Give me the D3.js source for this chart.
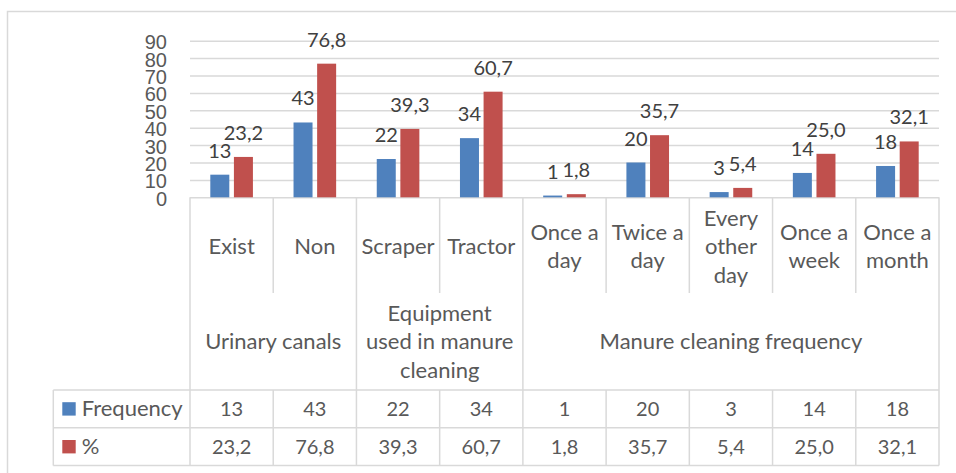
<!DOCTYPE html>
<html>
<head>
<meta charset="utf-8">
<script src="https://cdn.jsdelivr.net/npm/d3@7"></script>
<style>
  body { margin: 0; background: #fff; }
  svg { font-family: Lato, "Open Sans", sans-serif; }
  .grid line { stroke: #d9d9d9; stroke-width: 1.5; }
  .grid text { fill: #595959; font-size: 20px; }
  .rule { stroke: #d9d9d9; stroke-width: 1.5; fill: none; }
  .lbl { fill: #595959; font-size: 22px; text-anchor: middle; }
  .num { fill: #595959; font-size: 20px; text-anchor: middle; }
  .val { fill: #404040; font-size: 20px; text-anchor: middle; }
</style>
</head>
<body>
<svg width="956" height="473"></svg>
<script>
// chart data
var categories = ["Exist", "Non", "Scraper", "Tractor", "Once a day", "Twice a day", "Every other day", "Once a week", "Once a month"];
var categoryLines = [["Exist"], ["Non"], ["Scraper"], ["Tractor"], ["Once a", "day"], ["Twice a", "day"], ["Every", "other", "day"], ["Once a", "week"], ["Once a", "month"]];
var groupNames = [["Urinary canals"], ["Equipment", "used in manure", "cleaning"], ["Manure cleaning frequency"]];
var groupSpans = [2, 2, 5];
var seriesNames = ["Frequency", "%"];
var frequency = [13, 43, 22, 34, 1, 20, 3, 14, 18];
var percent = [23.2, 76.8, 39.3, 60.7, 1.8, 35.7, 5.4, 25.0, 32.1];
var yTicks = [0, 10, 20, 30, 40, 50, 60, 70, 80, 90];
var colors = ["#4f81bd", "#c0504d"];

var svg = d3.select('svg');
var plotLeft = 190, plotRight = 939, base = 197.3, plotTop = 40.7;
var catRowBottom = 293, tableTop = 390, rowH = 37.8;
var tableLeft = 53.3;
var lineGap = 28.5;
var textShift = 7.5; // baseline offset from visual center

var fmtPct = function (v) { return d3.format(".1f")(v).replace(".", ","); };
var series = [frequency, percent];
var formats = [d3.format("d"), fmtPct];

var x = d3.scaleBand().domain(categories).range([plotLeft, plotRight]);
var x1 = d3.scaleBand().domain(seriesNames).range([0, x.bandwidth()])
    .paddingInner(0.195).paddingOuter(0.86);
var y = d3.scaleLinear().domain([0, 90]).range([base, plotTop]);

// outer chart border (only top and left are visible)
svg.append("rect").attr("class", "rule")
    .attr("x", 7.5).attr("y", 11.5).attr("width", 1000).attr("height", 500);

// gridlines + y labels
var yAxis = d3.axisLeft(y).tickValues(yTicks).tickSize(-(plotRight - plotLeft)).tickPadding(23);
var gy = svg.append("g").attr("class", "grid")
    .attr("transform", "translate(" + plotLeft + ",0)")
    .call(yAxis);
gy.select(".domain").remove();
gy.selectAll("text").attr("dy", "0.4em").attr("font-family", null).attr("font-size", null);

// bars
series.forEach(function (vals, s) {
    svg.append("g").selectAll("rect")
        .data(vals)
        .enter()
        .append("rect")
        .attr("x", function (d, i) { return x(categories[i]) + x1(seriesNames[s]); })
        .attr("y", function (d) { return y(d); })
        .attr("width", x1.bandwidth())
        .attr("height", function (d) { return base - y(d); })
        .attr("fill", colors[s]);

    // data labels
    svg.append("g").selectAll("text")
        .data(vals)
        .enter()
        .append("text")
        .attr("class", "val")
        .attr("x", function (d, i) { return x(categories[i]) + x1(seriesNames[s]) + x1.bandwidth() / 2; })
        .attr("y", function (d) { return y(d) - 17; })
        .text(formats[s]);
});

// category dividers and group dividers
var groupEdges = [0];
groupSpans.forEach(function (n) { groupEdges.push(groupEdges[groupEdges.length - 1] + n); });
var edgeX = function (i) { return i < categories.length ? x(categories[i]) : plotRight; };

d3.range(categories.length + 1).forEach(function (i) {
    var isGroup = groupEdges.indexOf(i) >= 0;
    svg.append("line").attr("class", "rule")
        .attr("x1", edgeX(i)).attr("x2", edgeX(i))
        .attr("y1", base).attr("y2", isGroup ? tableTop + 2 * rowH : catRowBottom);
    if (!isGroup) {
        svg.append("line").attr("class", "rule")
            .attr("x1", edgeX(i)).attr("x2", edgeX(i))
            .attr("y1", tableTop).attr("y2", tableTop + 2 * rowH);
    }
});

// category labels
categories.forEach(function (c, i) {
    var lines = categoryLines[i];
    var cy = 246.7 - (lines.length - 1) * lineGap / 2;
    var t = svg.append("text").attr("class", "lbl");
    lines.forEach(function (l, k) {
        t.append("tspan").attr("x", x(c) + x.bandwidth() / 2)
            .attr("y", cy + k * lineGap + textShift).text(l);
    });
});

// group labels
groupNames.forEach(function (lines, g) {
    var cx = (edgeX(groupEdges[g]) + edgeX(groupEdges[g + 1])) / 2;
    var cy = 341.7 - (lines.length - 1) * lineGap / 2;
    var t = svg.append("text").attr("class", "lbl");
    lines.forEach(function (l, k) {
        t.append("tspan").attr("x", cx).attr("y", cy + k * lineGap + textShift).text(l);
    });
});

// data table
[0, 1, 2].forEach(function (r) {
    svg.append("line").attr("class", "rule")
        .attr("x1", tableLeft).attr("x2", plotRight)
        .attr("y1", tableTop + r * rowH).attr("y2", tableTop + r * rowH);
});
svg.append("line").attr("class", "rule")
    .attr("x1", tableLeft).attr("x2", tableLeft)
    .attr("y1", tableTop).attr("y2", tableTop + 2 * rowH);

seriesNames.forEach(function (name, s) {
    var cy = tableTop + s * rowH + rowH / 2;
    svg.append("rect")
        .attr("x", 62.3).attr("y", cy - 6.7)
        .attr("width", 13.4).attr("height", 13.4)
        .attr("fill", colors[s]);
    svg.append("text").attr("class", "lbl")
        .style("text-anchor", "start")
        .attr("x", 81.7).attr("y", cy + textShift).text(name);
    svg.append("g").selectAll("text")
        .data(series[s])
        .enter()
        .append("text")
        .attr("class", "num")
        .attr("x", function (d, i) { return x(categories[i]) + x.bandwidth() / 2; })
        .attr("y", cy + 7)
        .text(formats[s]);
});
</script>
</body>
</html>
